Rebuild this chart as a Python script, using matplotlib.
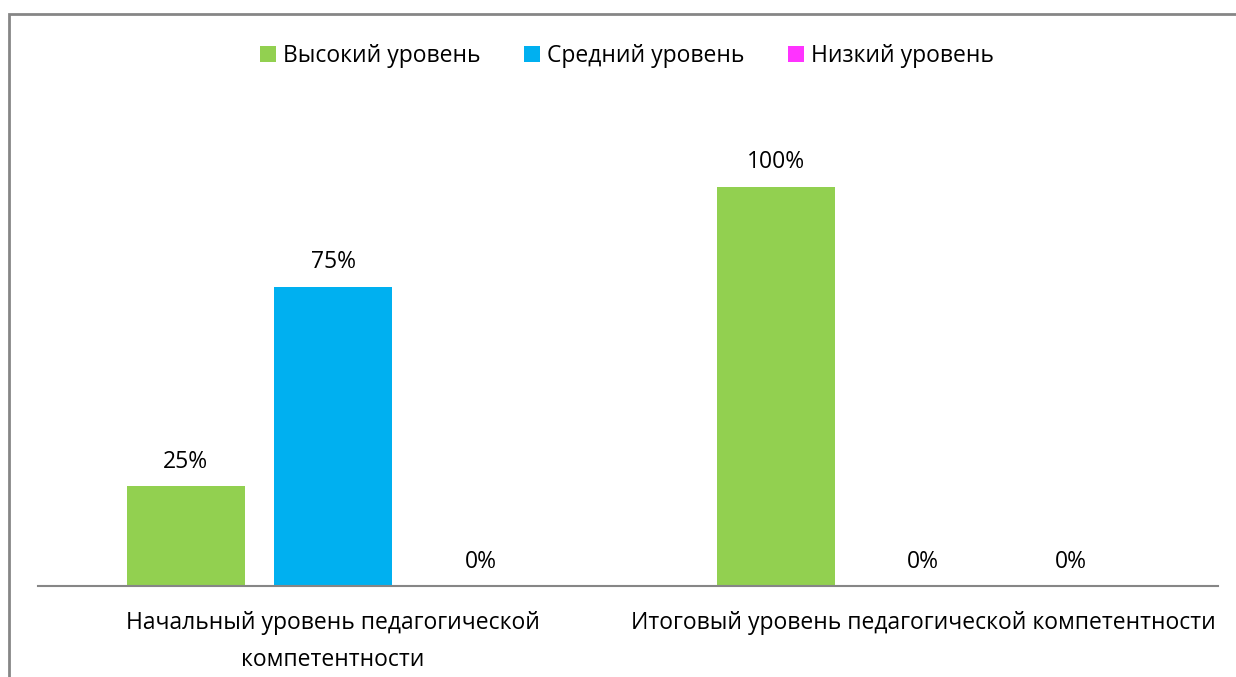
import matplotlib.pyplot as plt
import numpy as np
from matplotlib.patches import Rectangle

# --- Data -------------------------------------------------------------------

categories = [
    "Начальный уровень педагогической\nкомпетентности",
    "Итоговый уровень педагогической компетентности",
]
series_names = ["Высокий уровень", "Средний уровень", "Низкий уровень"]
high = [0.25, 1.00]
medium = [0.75, 0.00]
low = [0.00, 0.00]

COLORS = ["#92D050", "#00B0F0", "#FF33FF"]
GRID_GRAY = "#868686"
FS = 16.5

plt.rcParams["font.family"] = ["Open Sans", "DejaVu Sans"]


def main():
    fig = plt.figure(figsize=(12.36, 6.77), dpi=100)
    ax = fig.add_axes([38 / 1236, 1 - 586 / 677, 1180 / 1236, 479 / 677])

    x = np.arange(len(categories))
    width = 0.2
    step = 0.25
    handles = []
    for i, (name, vals) in enumerate(zip(series_names, [high, medium, low])):
        bars = ax.bar(x + (i - 1) * step, vals, width, color=COLORS[i], label=name)
        ax.bar_label(bars, labels=[f"{v:.0%}" for v in vals], padding=9, fontsize=FS)
        handles.append(bars)

    ax.set_xlim(-0.5, 1.5)
    ax.set_ylim(0, 1.2)
    ax.set_yticks([])
    ax.set_xticks(x)
    ax.set_xticklabels(categories, fontsize=FS, linespacing=1.7)
    ax.tick_params(axis="x", length=0, pad=18)
    for side in ["top", "right", "left"]:
        ax.spines[side].set_visible(False)
    ax.spines["bottom"].set_color(GRID_GRAY)
    ax.spines["bottom"].set_linewidth(1.5)

    fig.legend(
        handles=handles,
        labels=series_names,
        loc="center",
        bbox_to_anchor=(627 / 1236, 1 - 56 / 677),
        ncol=3,
        frameon=False,
        fontsize=FS,
        handlelength=0.7,
        handleheight=0.7,
        handletextpad=0.3,
        columnspacing=1.9,
    )

    # chart area border (cut off at right/bottom in the original)
    fig.patches.append(
        Rectangle(
            (8.5 / 1236, -0.1), 1.2, 1 - 13.5 / 677 + 0.1,
            transform=fig.transFigure, fill=False,
            edgecolor=GRID_GRAY, linewidth=2,
        )
    )

    fig.savefig("out.png", dpi=100)


if __name__ == "__main__":
    main()
